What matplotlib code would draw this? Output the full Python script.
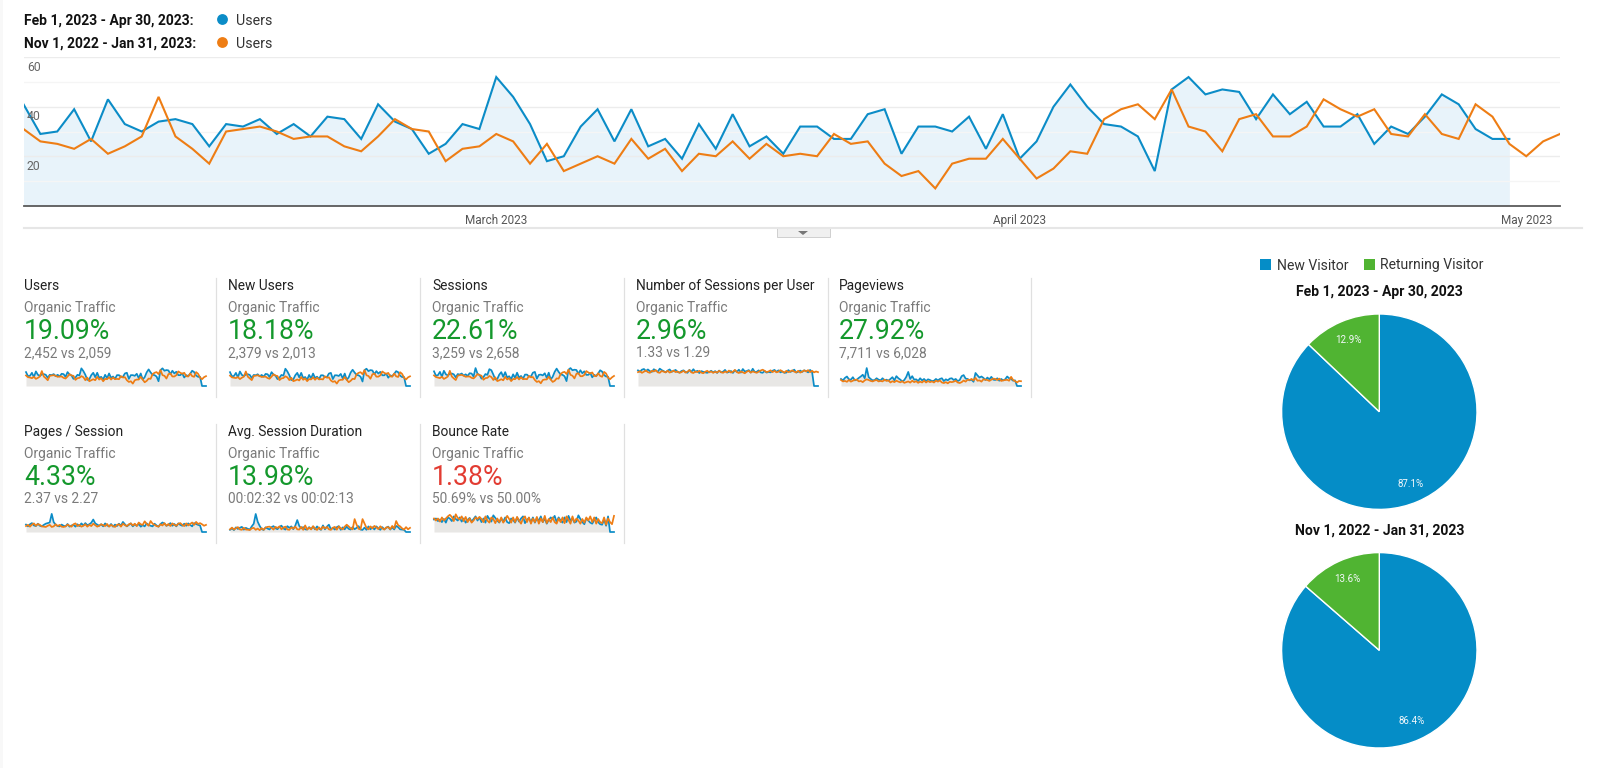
import matplotlib
matplotlib.use("Agg")
import matplotlib.pyplot as plt
from matplotlib.patches import Rectangle
import numpy as np

plt.rcParams['font.family'] = ['Roboto', 'DejaVu Sans']

W, H = 1600, 768
BLUE = '#0b8cc7'
ORANGE = '#ee7d14'
PIE_BLUE = '#058dc7'
PIE_GREEN = '#50b432'
GREEN = '#14982c'
RED = '#e23c32'
GREY = '#7a7a7a'
DARK = '#222222'

# ---- main chart ----
users_current = [41,29,30,39,26,43,33,30,34,35,33,24,33,32,35,29,33,28,36,35,27,41,34,31,21,25,33,31,52,44,
                 33,18,20,32,39,26,39,24,27,19,33,23,37,24,28,21,32,32,27,27,37,39,21,32,32,30,36,23,37,19,
                 26,40,49,40,33,32,28,14,47,52,45,47,46,35,45,37,42,32,32,37,25,32,29,36,45,41,31,27,27]
users_previous = [31,26,25,23,27,21,24,28,44,28,23,17,30,31,32,30,27,28,28,24,22,28,35,31,30,18,23,24,29,26,
                  17,25,14,17,20,17,27,19,23,14,21,20,26,19,25,20,21,20,29,25,26,17,12,14,7,17,19,19,27,19,
                  11,15,22,21,35,39,41,35,47,32,30,22,35,37,28,28,32,43,39,36,39,29,28,37,29,27,41,36,25,20,
                  26,29]
month_ticks = [28, 59, 89]
month_labels = ['March 2023', 'April 2023', 'May 2023']
value_ticks = [20, 40, 60]
minor_value_ticks = [10, 30, 50]
legend_periods = ['Feb 1, 2023 - Apr 30, 2023:', 'Nov 1, 2022 - Jan 31, 2023:']

# ---- scorecards ----
card_titles = ['Users', 'New Users', 'Sessions', 'Number of Sessions per User', 'Pageviews',
               'Pages / Session', 'Avg. Session Duration', 'Bounce Rate']
card_changes = ['19.09%', '18.18%', '22.61%', '2.96%', '27.92%', '4.33%', '13.98%', '1.38%']
card_compare = ['2,452 vs 2,059', '2,379 vs 2,013', '3,259 vs 2,658', '1.33 vs 1.29', '7,711 vs 6,028',
                '2.37 vs 2.27', '00:02:32 vs 00:02:13', '50.69% vs 50.00%']
card_up_is_good = [True, True, True, True, True, True, True, False]

new_users_cur = [40,28,29,38,25,42,32,29,33,34,32,23,32,31,34,28,32,27,35,34,26,40,33,30,20,24,32,30,50,42,
                 31,17,19,31,38,25,38,23,26,18,32,22,36,23,27,20,31,31,26,26,36,38,20,31,31,29,35,22,36,18,
                 25,39,47,39,32,31,27,13,46,50,43,46,45,34,43,36,41,31,31,36,24,31,28,35,43,40,30,26,26]
new_users_prev = [30,25,24,23,26,20,24,27,42,27,22,17,29,30,31,29,26,27,27,23,21,27,34,30,29,17,22,23,28,25,
                  17,24,14,16,19,16,26,18,22,14,20,19,25,18,24,19,20,19,28,24,25,16,12,14,7,16,18,18,26,18,
                  11,15,21,20,34,38,40,34,46,31,29,21,34,36,27,27,31,42,38,35,38,28,27,36,28,26,40,35,24,19,
                  25,28]
sessions_cur = [54,38,40,52,34,56,43,39,45,46,43,32,44,42,46,38,43,37,47,46,35,66,45,41,27,33,44,41,62,58,
                42,24,26,42,51,34,51,31,36,25,43,30,49,31,37,27,42,42,35,35,49,52,27,41,42,39,47,30,49,24,
                34,52,64,52,43,41,36,18,60,66,58,60,59,45,58,47,54,41,41,48,32,41,37,46,58,53,40,35,34]
sessions_prev = [39,33,31,29,34,26,30,35,56,35,28,22,38,40,41,38,34,35,35,30,28,35,44,40,38,23,29,30,37,33,
                 22,32,18,21,25,21,34,24,29,18,26,25,33,24,32,25,26,25,37,32,33,22,15,18,10,22,24,24,34,24,
                 15,19,28,27,44,50,52,44,60,41,38,28,45,47,36,36,41,55,50,46,50,37,36,47,37,34,52,46,31,25,
                 32,37]
per_user_cur = [1.40,1.28,1.46,1.52,1.34,1.48,1.33,1.26,1.50,1.38,1.27,1.55,1.42,1.33,1.22,1.38,1.48,1.27,1.34,1.44,
                1.26,1.20,1.34,1.40,1.26,1.18,1.44,1.27,1.50,1.26,1.36,1.16,1.33,1.27,1.22,1.18,1.26,1.36,1.22,1.33,
                1.17,1.38,1.22,1.28,1.44,1.20,1.26,1.34,1.17,1.40,1.26,1.46,1.20,1.52,1.30,1.34,1.42,1.20,1.54,1.26,
                1.27,1.40,1.22,1.18,1.34,1.20,1.26,1.22,1.36,1.44,1.27,1.40,1.22,1.30,1.18,1.20,1.42,1.26,1.34,1.46,
                1.20,1.27,1.38,1.26,1.40,1.34,1.22,1.44,1.26]
per_user_prev = [1.24,1.32,1.18,1.28,1.38,1.24,1.18,1.36,1.30,1.42,1.22,1.18,1.34,1.28,1.22,1.36,1.20,1.28,1.38,1.24,
                 1.30,1.18,1.24,1.36,1.20,1.28,1.42,1.22,1.16,1.30,1.24,1.36,1.20,1.14,1.28,1.36,1.22,1.30,1.18,1.28,
                 1.20,1.36,1.24,1.18,1.30,1.22,1.38,1.20,1.28,1.44,1.24,1.16,1.30,1.22,1.14,1.28,1.36,1.20,1.30,1.24,
                 1.18,1.28,1.38,1.46,1.36,1.24,1.30,1.40,1.24,1.36,1.22,1.28,1.42,1.30,1.20,1.36,1.24,1.30,1.40,1.28,
                 1.22,1.36,1.20,1.28,1.40,1.30,1.42,1.24,1.36,1.22,1.30,1.24]
pageviews_cur = [100,80,115,135,95,90,125,80,90,115,135,160,110,255,125,100,80,85,110,90,
                 80,110,80,90,75,100,125,80,140,110,90,65,85,130,200,100,140,90,95,70,
                 110,80,100,70,95,85,70,75,100,80,100,110,70,95,80,105,110,85,100,70,
                 85,140,155,105,100,80,90,60,185,150,120,135,115,85,120,95,130,90,85,110,
                 75,100,80,95,135,110,100,75,80]
pageviews_prev = [85,65,72,60,85,62,75,88,90,65,72,55,80,95,85,72,65,78,85,65,
                  72,65,90,72,80,50,68,55,75,62,52,68,45,55,65,48,75,55,68,45,
                  62,50,75,50,70,55,65,50,75,62,78,50,42,55,38,60,55,62,75,50,
                  42,55,78,62,90,85,100,80,115,75,80,62,95,90,85,72,90,105,100,85,
                  105,72,80,85,88,75,130,85,70,50,72,68]
pages_cur = [2.5,1.9,2.6,3.0,2.2,2.0,2.8,2.1,1.9,2.4,2.8,3.0,3.2,6.1,3.3,2.5,2.0,1.9,2.5,2.1,
             1.9,2.7,1.8,2.2,2.4,1.8,2.6,2.0,2.9,2.2,3.0,2.3,2.6,3.1,4.2,2.9,2.5,2.1,2.6,1.9,
             2.9,2.2,1.9,2.7,1.8,2.5,2.0,2.8,2.1,3.4,2.6,1.9,2.4,2.9,1.9,2.6,2.1,2.7,1.8,2.3,
             1.9,2.9,2.4,2.1,1.9,2.8,2.2,1.8,2.7,3.2,2.8,2.1,2.4,3.0,2.1,2.7,1.9,2.9,2.4,2.1,
             2.8,2.1,2.9,2.4,1.9,3.0,2.7,2.4,2.2]
pages_prev = [2.0,2.4,1.8,2.5,2.9,2.1,2.7,2.4,1.9,1.8,1.7,2.1,2.4,1.7,1.9,2.6,2.0,2.4,1.8,1.7,
              1.9,2.5,2.1,1.8,2.6,2.9,2.0,2.4,1.8,2.1,2.6,1.8,2.4,2.0,2.8,2.3,1.8,2.1,2.6,2.3,
              2.0,2.7,1.8,2.4,2.0,1.7,2.4,2.6,1.8,2.8,2.3,2.0,2.6,2.9,2.2,2.8,2.0,3.2,2.6,2.4,
              3.6,2.7,2.1,3.7,2.8,2.4,2.0,1.8,2.6,2.2,3.0,2.1,2.7,2.0,2.9,2.4,2.1,2.8,3.0,2.4,
              2.0,2.9,2.2,2.7,3.2,2.4,3.4,2.7,3.0,2.6,2.1,2.4]
duration_cur = [90,150,80,190,125,175,210,95,170,130,100,230,340,740,420,250,120,85,190,140,
                105,200,240,150,115,210,260,145,100,240,170,230,115,260,490,250,150,200,110,100,
                200,120,220,105,230,140,90,270,110,220,300,110,170,100,200,240,90,190,110,220,
                130,100,200,115,170,240,100,85,180,90,230,110,195,105,230,150,90,200,110,170,
                220,100,190,105,250,200,110,100,90]
duration_prev = [110,180,100,160,200,105,90,175,100,95,80,150,170,90,140,75,160,90,180,210,
                 220,170,100,210,165,230,110,185,220,105,90,190,140,220,110,100,210,90,270,100,
                 180,105,240,140,85,190,100,220,150,210,110,90,175,210,95,230,150,110,220,300,
                 230,150,110,530,300,130,110,530,350,170,110,230,150,250,190,120,235,150,100,190,
                 200,110,250,150,450,280,230,150,100,200,110,170]
bounce_cur = [48,52,42,48,38,50,36,56,52,42,60,50,44,56,40,52,36,46,54,40,
              50,60,44,56,38,52,36,62,50,40,64,54,44,36,52,40,56,38,34,52,
              46,36,56,40,52,60,34,46,54,38,56,36,52,44,60,38,52,32,46,56,
              50,62,38,56,44,36,56,38,62,44,52,36,40,64,50,38,30,52,44,36,
              32,46,56,38,30,28,48,24,60]
bounce_prev = [52,44,52,40,56,44,52,60,66,58,42,68,54,48,60,42,58,38,52,36,
               44,56,50,58,50,38,60,44,36,56,50,34,52,38,56,36,46,62,50,36,
               56,38,58,44,32,52,60,38,56,32,52,38,58,32,52,38,62,34,50,38,
               56,38,32,52,38,56,34,60,46,32,60,38,52,44,32,50,36,56,44,60,
               38,56,32,50,38,34,56,28,52,38,30,62]
card_series = [(users_current, users_previous, 56), (new_users_cur, new_users_prev, 55),
               (sessions_cur, sessions_prev, 70), (per_user_cur, per_user_prev, 1.7),
               (pageviews_cur, pageviews_prev, 270), (pages_cur, pages_prev, 6.4),
               (duration_cur, duration_prev, 780), (bounce_cur, bounce_prev, 73)]
trailing_zero_days = [0, 0, 0]

# ---- pies ----
pie_labels = ['New Visitor', 'Returning Visitor']
pie_current = [87.1, 12.9]
pie_previous = [86.4, 13.6]
pie_titles = ['Feb 1, 2023 - Apr 30, 2023', 'Nov 1, 2022 - Jan 31, 2023']

fig = plt.figure(figsize=(W / 100, H / 100), dpi=100, facecolor='white')

def axpx(x0, y0, x1, y1, **kw):
    """Axes from pixel box: x0..x1 left-right, y0 top, y1 bottom."""
    return fig.add_axes([x0 / W, 1 - y1 / H, (x1 - x0) / W, (y1 - y0) / H], **kw)

# overlay in pixel coordinates for page furniture and text
ov = axpx(0, 0, W, H, zorder=5)
ov.set_xlim(0, W)
ov.set_ylim(H, 0)
ov.axis('off')
ov.patch.set_alpha(0)
ov.add_patch(Rectangle((0, 0), 3, H, color='#f8f8f8', lw=0))

def t(x, y, s, size, color=DARK, weight='normal', ha='left'):
    ov.text(x, y, s, fontsize=size, color=color, fontweight=weight, ha=ha, va='center_baseline')

# header legend
for y, period, col in zip([19.3, 42.3], legend_periods, [BLUE, ORANGE]):
    t(24, y, period, 10.0, '#111111', 'bold')
    ov.plot([222], [y], 'o', ms=7.8, color=col, mew=0)
    t(236, y, 'Users', 10.3, '#333333')

# main chart
ax = axpx(23.5, 57.3, 1560, 205.7)
xc = np.arange(len(users_current))
xp = np.arange(len(users_previous))
ax.fill_between(xc, users_current, 0, color='#e8f3fa', lw=0, zorder=1)
ax.plot(xc, users_current, color=BLUE, lw=1.5, zorder=3, solid_joinstyle='miter')
ax.plot(xp, users_previous, color=ORANGE, lw=1.5, zorder=4, solid_joinstyle='miter')
ax.set_xlim(0, 91)
ax.set_ylim(0, 60)
ax.set_yticks(value_ticks)
ax.set_yticks(minor_value_ticks, minor=True)
ax.grid(True, axis='y', which='major', color='#ececec', lw=1.0, zorder=2)
ax.grid(True, axis='y', which='minor', color='#f5f5f5', lw=1.0, zorder=2)
ax.tick_params(axis='y', which='both', length=0, labelleft=False)
ax.set_xticks(month_ticks)
ax.set_xticklabels(month_labels, fontsize=8.5, color='#555555')
ax.tick_params(axis='x', length=0, pad=6)
for s in ['top', 'left', 'right']:
    ax.spines[s].set_visible(False)
ax.spines['bottom'].set_color('#5a5a5a')
ax.spines['bottom'].set_linewidth(1.3)
ax.patch.set_alpha(0)
for v in value_ticks:
    ax.annotate(str(v), (0, v), xytext=(2.5, -6.2), textcoords='offset points',
                fontsize=8.8, color='#666666', ha='left', va='center_baseline', zorder=6)

# separator and drawer button
ov.plot([24, 1582], [228, 228], color='#e6e6e6', lw=1.5)
ov.add_patch(Rectangle((777, 228), 53, 9, fc='#f0f0f0', ec='#cfcfcf', lw=0.7))
ov.fill([798, 808, 803], [231, 231, 235], color='#777777', lw=0)

# scorecards
card_x = [24, 228, 432, 636, 839, 24, 228, 432]
sep_x = [216, 420, 624, 828, 1031, 216, 420, 624]
row_top = [285, 431]
for i, title in enumerate(card_titles):
    row = 0 if i < 5 else 1
    x = card_x[i]
    y0 = row_top[row]
    t(x, y0 - 0.7, title, 9.95, DARK)
    t(x, y0 + 21.3, 'Organic Traffic', 9.95, GREY)
    t(x, y0 + 43.5, card_changes[i], 19.2, GREEN if card_up_is_good[i] else RED, 'normal')
    t(x, y0 + 66.5, card_compare[i], 9.95, GREY)
    ov.plot([sep_x[i], sep_x[i]], [y0 - 7, y0 + 112], color='#e0e0e0', lw=0.9)

    cur, prev, top = card_series[i]
    base = y0 + 101
    sp = axpx(x + 2, base - 19, x + 182, base)
    cur_full = list(cur) + trailing_zero_days
    xs = np.arange(len(cur_full))
    sp.fill_between(xs, cur_full, 0, color='#e8e7e5', lw=0, zorder=1)
    sp.plot(xs, cur_full, color=BLUE, lw=1.25, zorder=2, clip_on=False)
    sp.plot(np.arange(len(prev)), prev, color=ORANGE, lw=1.25, zorder=3, clip_on=False)
    sp.set_xlim(0, 91)
    sp.set_ylim(0, top)
    sp.axis('off')

# pie legend
for xs, xt, lab, col in zip([1260, 1364], [1277, 1380], pie_labels, [PIE_BLUE, PIE_GREEN]):
    ov.add_patch(Rectangle((xs, 258.5), 11, 11, color=col, lw=0))
    t(xt, 264, lab, 10.1, '#333333')

# pies
for vals, title, cy, ty in zip([pie_current, pie_previous], pie_titles, [411.7, 650.3], [290.3, 529.3]):
    r = 97.7
    cx = 1379.3
    pa = axpx(cx - r, cy - r, cx + r, cy + r)
    wedges, _, autos = pa.pie(vals, colors=[PIE_BLUE, PIE_GREEN], startangle=90, counterclock=False,
                              autopct='%.1f%%', pctdistance=0.8, radius=1,
                              wedgeprops=dict(edgecolor='white', linewidth=1.0),
                              textprops=dict(color='#f4f8fb', fontsize=7.0))
    pa.set_xlim(-1, 1)
    pa.set_ylim(-1, 1)
    pa.set_aspect('equal')
    for w in wedges:
        w.set_clip_on(False)
    t(cx, ty, title, 10.1, '#111111', 'bold', ha='center')

fig.savefig('out.png', dpi=100)
